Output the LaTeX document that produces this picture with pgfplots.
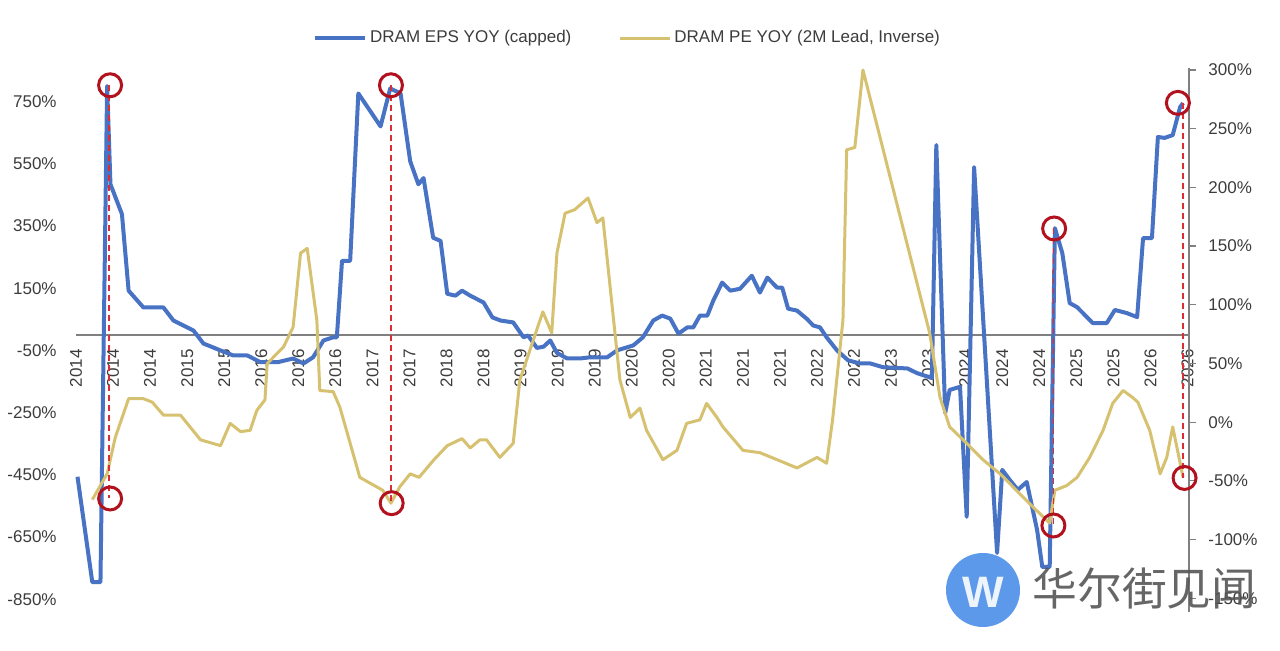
\documentclass[border=0pt]{standalone}
\usepackage{pgfplots}
\usepackage{pgfplotstable}
\pgfplotsset{compat=1.18}
\usepackage{fontspec}
\setmainfont{Liberation Sans}
\newfontfamily\cjk{Noto Sans CJK SC}
\definecolor{epsblue}{RGB}{72,114,196}
\definecolor{pegold}{RGB}{214,193,112}
\definecolor{circred}{RGB}{178,18,30}
\definecolor{dashred}{RGB}{220,45,55}
\definecolor{axisgray}{RGB}{128,128,128}
\definecolor{txtgray}{RGB}{60,60,60}
\definecolor{wmblue}{RGB}{74,142,232}
\definecolor{wmgray}{RGB}{85,85,85}

\pgfplotstableread{
m v
0.2 -456
2.2 -795
3.3 -795
4.2 800
4.65 484
6.2 388
7.1 142
9.1 88
11.8 88
13.15 46
15.85 14
17.2 -28
19.5 -50
21.2 -66
23.1 -66
24.9 -88
27.2 -88
29.3 -76
30.7 -92
32.0 -72
33.4 -18
34.7 -8
35.2 -8
35.9 238
37.0 238
38.1 776
41.1 670
42.4 792
43.8 776
45.1 558
46.2 484
46.9 504
48.2 312
49.2 302
50.1 132
51.2 126
52.1 142
53.2 126
55.0 104
56.2 56
57.3 46
59.0 40
60.4 -8
61.0 -2
62.2 -42
63.1 -38
64.0 -18
64.9 -58
66.3 -76
68.0 -76
69.4 -72
71.7 -72
73.0 -50
75.2 -34
76.5 -8
77.9 46
79.1 62
80.2 52
81.3 4
82.5 24
83.3 24
84.2 62
85.2 62
86.0 110
87.2 168
88.3 142
89.6 148
91.2 190
92.3 136
93.3 184
94.6 152
95.3 152
96.1 84
97.3 78
98.6 52
99.5 30
100.4 24
101.3 -8
102.7 -50
104.2 -82
105.8 -92
107.2 -92
108.9 -104
112.2 -108
113.5 -123
115.5 -139
116.1 610
117.3 -251
117.9 -177
119.3 -167
120.2 -585
121.2 539
124.3 -701
125.0 -434
126.0 -466
127.1 -498
128.3 -473
129.7 -627
130.4 -746
131.4 -746
132.1 343
133.1 263
134.1 102
135.1 89
137.2 38
139.1 38
140.2 80
141.8 70
143.2 57
144.0 311
145.2 311
146.0 636
146.9 633
148.0 642
149.0 732
149.4 745
}\epsdata

\pgfplotstableread{
m v
2.2 -66
4.2 -44
5.3 -13
7.1 20
9.1 20
10.3 17
11.8 6
14.1 6
16.8 -15
19.5 -20
20.8 -1
22.2 -8
23.5 -7
24.4 10
25.5 19
25.8 50
28.0 64
29.3 81
30.3 144
31.2 148
32.5 87
32.9 27
34.7 26
35.6 13
37.0 -18
38.3 -47
39.7 -52
41.4 -58
42.5 -69
43.7 -55
45.1 -44
46.3 -47
48.3 -32
50.1 -20
52.1 -14
53.2 -22
54.5 -15
55.4 -15
57.2 -30
59.0 -18
59.9 36
63.0 94
64.2 76
64.9 144
66.0 178
67.3 181
69.1 191
70.3 170
71.1 174
73.4 36
74.8 4
76.1 12
77.0 -7
79.2 -32
81.1 -24
82.4 -1
84.2 2
85.1 16
86.5 4
87.3 -4
90.0 -24
92.3 -26
95.4 -34
97.3 -39
100.0 -30
101.3 -35
102.1 2
103.5 87
104.0 232
105.1 234
106.2 300
115.2 76
116.6 21
117.9 -4
120.2 -18
122.4 -32
124.7 -44
126.9 -58
129.1 -72
131.4 -86
132.1 -58
133.7 -54
135.1 -47
136.8 -30
138.6 -7
139.9 16
141.3 27
142.6 21
143.3 17
144.9 -7
146.3 -44
147.2 -30
148.0 -4
149.4 -47
}\pedata

\begin{document}
\begin{tikzpicture}
\pgfplotsset{
 common/.style={
  scale only axis, width=556.5pt, height=272pt,
  at={(38pt,19pt)}, anchor=south west,
  xmin=0, xmax=150.2, clip=false,
  tick label style={font=\fontsize{8.5}{10}\selectfont, text=txtgray},
 }
}
\begin{axis}[common,
  ymin=-890.8, ymax=857.7,
  axis x line=middle, axis y line=left,
  x axis line style={draw=axisgray, line width=0.8pt, -},
  y axis line style={draw=none, -},
  xtick={0,5,...,150},
  xticklabels={2014,2014,2014,2015,2015,2016,2016,2016,2017,2017,2018,2018,2019,2019,2019,2020,2020,2021,2021,2021,2022,2022,2023,2023,2024,2024,2024,2025,2025,2026,2026},
  xticklabel style={yshift=-7pt, rotate=90, anchor=east, inner sep=0pt},
  ytick={-850,-650,...,750},
  yticklabels={-850\%,-650\%,-450\%,-250\%,-50\%,150\%,350\%,550\%,750\%},
  yticklabel style={anchor=east, inner sep=0pt, xshift=-9.5pt},
  major tick length=0pt,
  hide obscured x ticks=false, hide obscured y ticks=false,
]
\addplot[epsblue, line width=2pt, line join=round, mark=none] table[x=m,y=v]{\epsdata};
\end{axis}
\begin{axis}[common,
  ymin=-161.7, ymax=301.7,
  axis x line=none, axis y line*=right,
  y axis line style={draw=axisgray, line width=0.6pt, -},
  ytick={-150,-100,...,300},
  yticklabels={-150\%,-100\%,-50\%,0\%,50\%,100\%,150\%,200\%,250\%,300\%},
  tick align=outside, major tick length=3.5pt,
  ytick style={draw=axisgray, line width=0.6pt},
  yticklabel style={anchor=west, inner sep=0pt, xshift=6pt},
  legend image code/.code={\draw[#1] (0pt,0pt) -- (25pt,0pt);},
  legend style={at={(0.496,1.055)}, anchor=center, draw=none, fill=none,
    font=\fontsize{8.5}{10}\selectfont, text=txtgray, legend columns=2,
    /tikz/every even column/.append style={column sep=22pt},
    nodes={inner sep=1.5pt}},
]
\addlegendimage{epsblue, line width=2pt}
\addlegendentry{DRAM EPS YOY (capped)}
\addplot[pegold, line width=1.5pt, line join=round, mark=none] table[x=m,y=v]{\pedata};
\addlegendentry{DRAM PE YOY (2M Lead, Inverse)}
\addplot[dashred, line width=0.75pt, dash pattern=on 3pt off 2pt, forget plot] coordinates {(4.45,287) (4.45,-65)};
\addplot[dashred, line width=0.75pt, dash pattern=on 3pt off 2pt, forget plot] coordinates {(42.5,287) (42.5,-69)};
\addplot[dashred, line width=0.75pt, dash pattern=on 3pt off 2pt, forget plot] coordinates {(131.9,165) (131.9,-88)};
\addplot[dashred, line width=0.75pt, dash pattern=on 3pt off 2pt, forget plot] coordinates {(149.4,272) (149.4,-47.5)};
\addplot[circred, only marks, mark=o, mark size=5.75pt, mark options={line width=1.5pt, solid}, forget plot] coordinates {(4.6,287) (4.6,-65) (42.5,287) (42.6,-69) (132.0,165) (131.9,-88) (148.7,272) (149.6,-47.5)};
\end{axis}
% watermark
\begin{scope}[opacity=0.9]
\fill[wmblue] (491.5pt,30pt) circle (18.5pt);
\node[text=white, font=\bfseries\fontsize{22}{22}\selectfont] at (491.5pt,29pt) {W};
\node[anchor=west, inner sep=0pt, text=wmgray, font=\cjk\fontsize{22.4}{22.4}\selectfont] at (516pt,31pt) {华尔街见闻};
\end{scope}
\pgfresetboundingbox
\path[use as bounding box] (0,0) rectangle (640pt,325pt);
\end{tikzpicture}
\end{document}
